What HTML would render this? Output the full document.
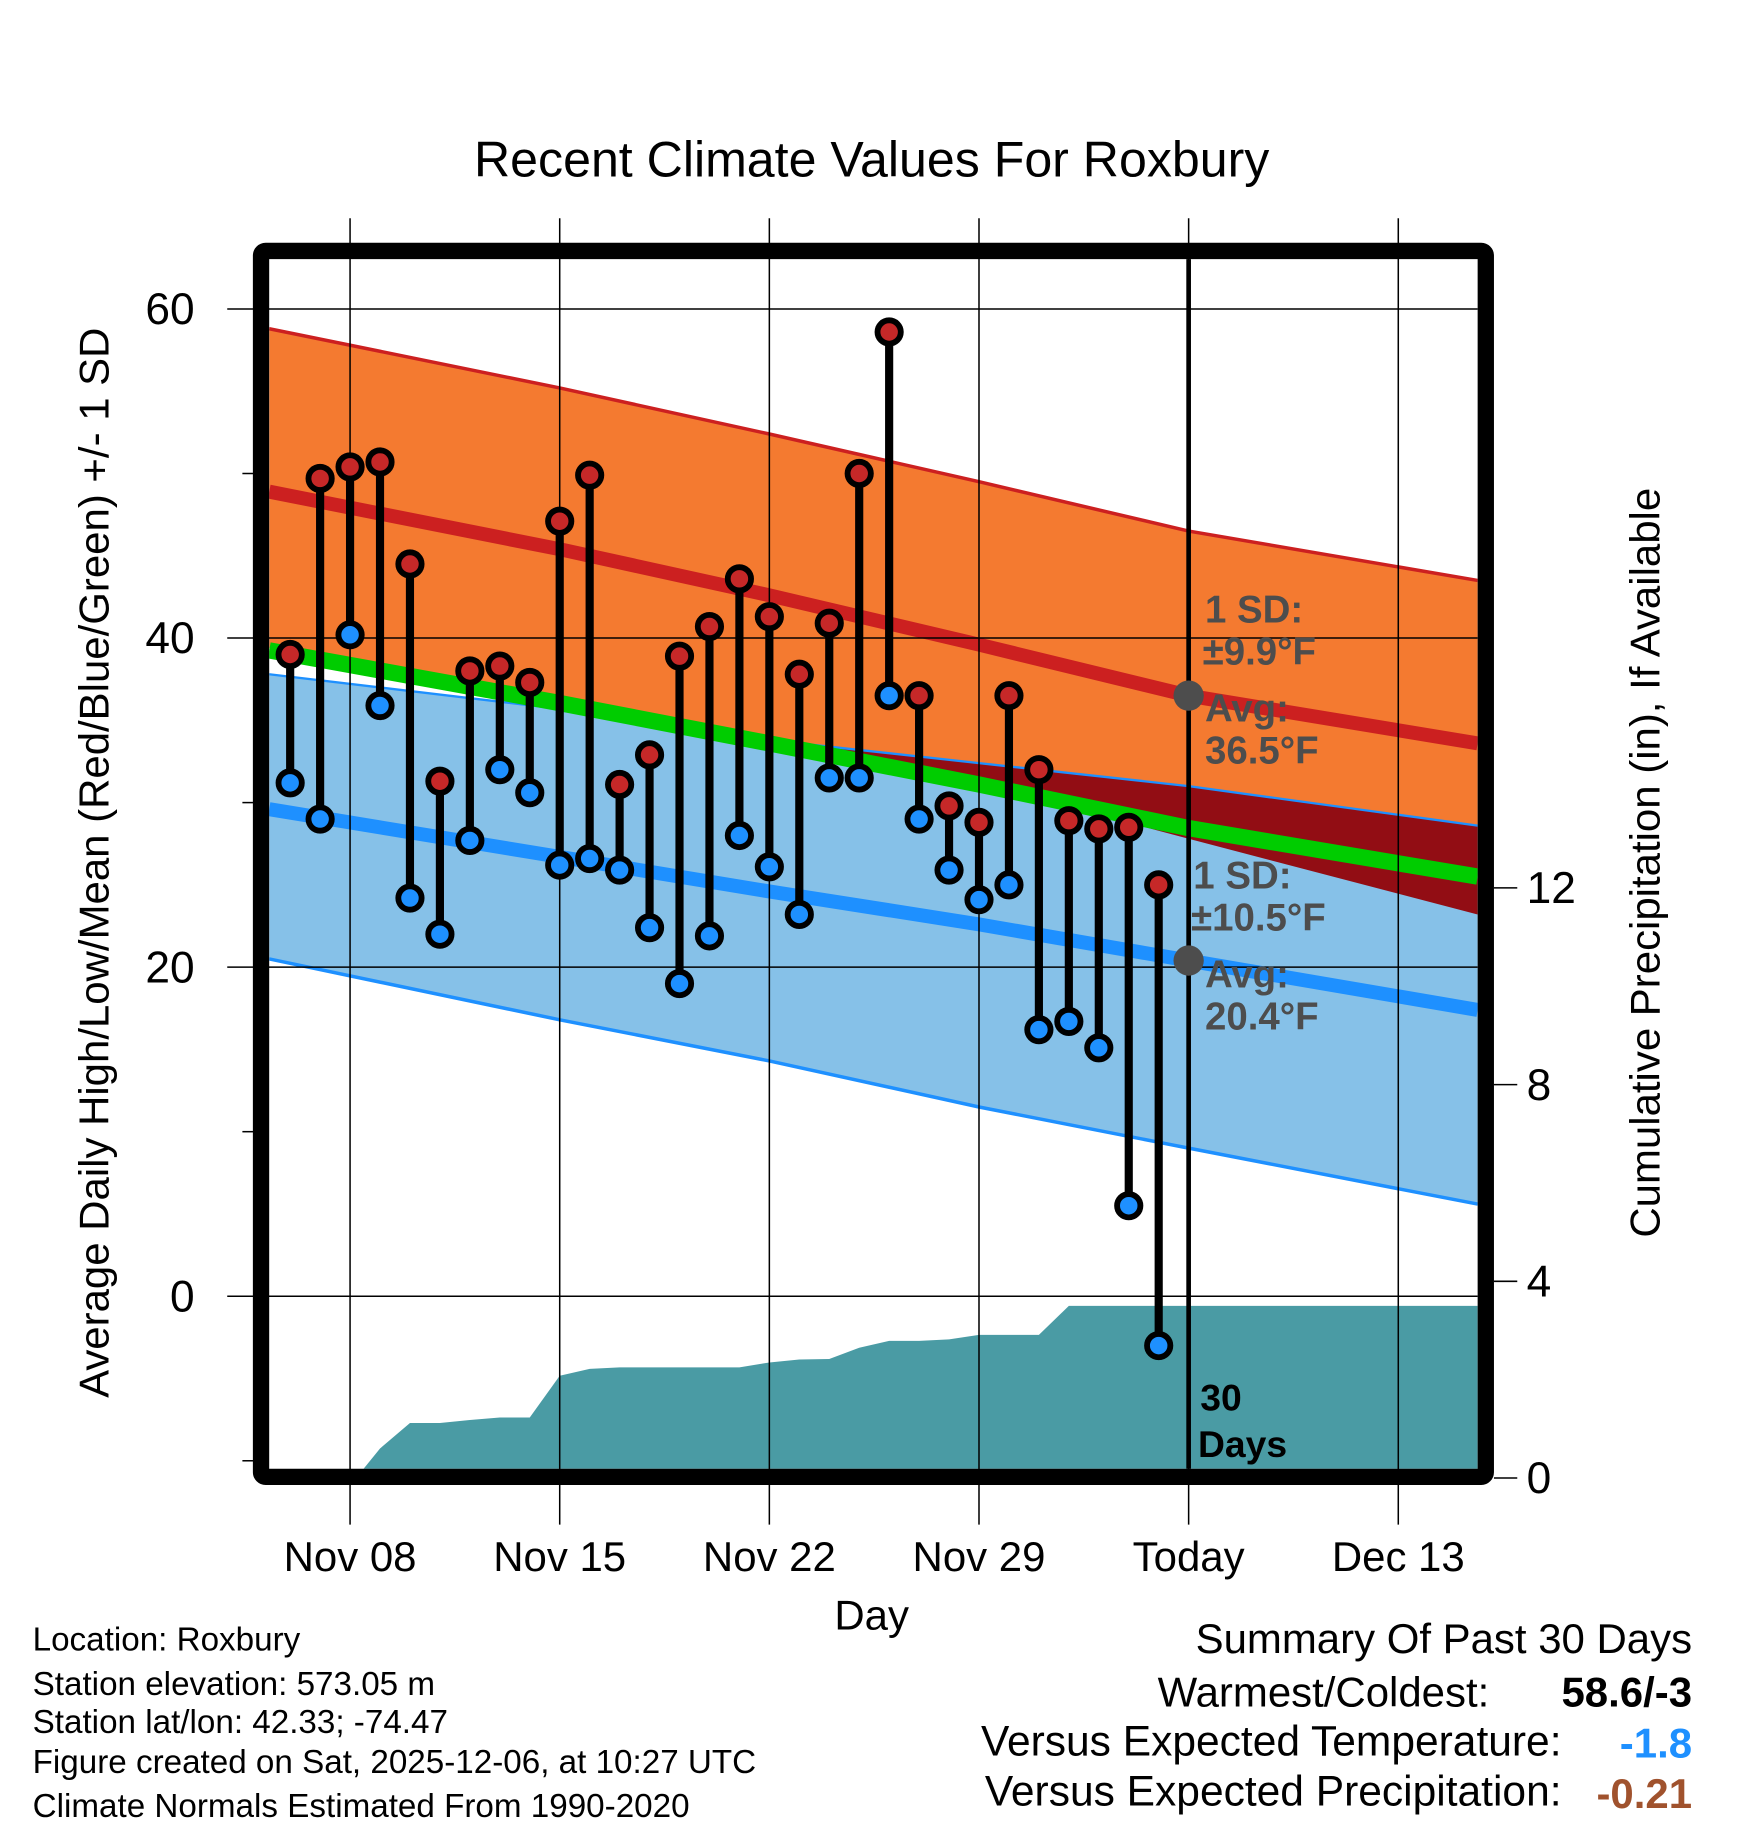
<!DOCTYPE html>
<html><head><meta charset="utf-8"><style>
html,body{margin:0;padding:0;background:#fff;}
svg{display:block;font-family:"Liberation Sans",Arial,sans-serif;}
</style></head><body>
<svg id="chart" width="1748" height="1828" viewBox="0 0 1500 1568" xmlns="http://www.w3.org/2000/svg">
<defs><clipPath id="blueClip"><polygon id="blueClipPoly"/></clipPath><clipPath id="plotClip"><rect x="231" y="222" width="1037" height="1038"/></clipPath></defs>
<text x="748" y="151" font-size="43" text-anchor="middle">Recent Climate Values For Roxbury</text>
<g id="bands" clip-path="url(#plotClip)"></g>
<g id="grid"></g>
<g id="marks"></g>
<g id="frame"></g>
<g id="labels"></g>
</svg>
<script>
// data
const days = ["Nov 06","Nov 07","Nov 08","Nov 09","Nov 10","Nov 11","Nov 12","Nov 13","Nov 14","Nov 15","Nov 16","Nov 17","Nov 18","Nov 19","Nov 20","Nov 21","Nov 22","Nov 23","Nov 24","Nov 25","Nov 26","Nov 27","Nov 28","Nov 29","Nov 30","Dec 01","Dec 02","Dec 03","Dec 04","Dec 05"];
const highs = [39,49.7,50.4,50.7,44.5,31.3,38,38.3,37.3,47.1,49.9,31.1,32.9,38.9,40.7,43.6,41.3,37.8,40.9,50,58.6,36.5,29.8,28.8,36.5,32,28.9,28.4,28.5,25];
const lows = [31.2,29,40.2,35.9,24.2,22,27.7,32,30.6,26.2,26.6,25.9,22.4,19,21.9,28,26.1,23.2,31.5,31.5,36.5,29,25.9,24.1,25,16.2,16.7,15.1,5.5,-3];
const precip = [0,0,0,0.6,1.12,1.12,1.18,1.23,1.23,2.08,2.22,2.25,2.25,2.25,2.25,2.25,2.35,2.41,2.42,2.65,2.79,2.79,2.82,2.91,2.91,2.91,3.5,3.5,3.5,3.5,3.5];
const normDays = [-0.7,9,16,23,30,39.65];
const highUpper = [58.8,55.2,52.4,49.5,46.5,43.5];
const highMean = [48.9,45.4,42.6,39.6,36.5,33.6];
const highLower = [39.4,36.0,33.5,31.2,27.8,23.2];
const lowUpper = [37.8,35.7,33.8,32.4,31.0,28.6];
const lowMean = [29.6,26.7,24.6,22.6,20.4,17.4];
const lowLower = [20.5,16.8,14.3,11.5,9.0,5.6];
const xTickLabels = ["Nov 08","Nov 15","Nov 22","Nov 29","Today","Dec 13"];
const xTickDays = [2,9,16,23,30,37];
const yTicks = [60,40,20,0];
const yMinor = [50,30,10,-10];
const pTicks = [0,4,8,12];

const X = d => 249 + 25.7*d;
const Y = v => 1112 - 14.12*v;
const P = v => 1268 - 42.2*v;
const NS="http://www.w3.org/2000/svg";
function mk(tag, parent, attrs){const e=document.createElementNS(NS,tag);for(const k in attrs)e.setAttribute(k,attrs[k]);parent.appendChild(e);return e;}
const bands=document.getElementById('bands'),grid=document.getElementById('grid'),marks=document.getElementById('marks'),frame=document.getElementById('frame'),labels=document.getElementById('labels');
const pts = arr => normDays.map((d,i)=>X(d)+','+Y(arr[i]));
const band = (a,b) => pts(a).concat(pts(b).reverse()).join(' ');

let e;
e=mk('polygon',bands,{points:band(highUpper,highLower),fill:'#f47a30'});


document.getElementById('blueClipPoly').setAttribute('points',band(lowUpper,lowLower));
e=mk('polygon',bands,{points:band(lowUpper,lowLower),fill:'#86c1e8'});


e=mk('polygon',bands,{points:band(highUpper,highLower),fill:'#920d14','clip-path':'url(#blueClip)'});


e=mk('polyline',bands,{points:pts(highUpper).join(' '),fill:'none',stroke:'#cc2020','stroke-width':3});


e=mk('polyline',bands,{points:pts(lowUpper).join(' '),fill:'none',stroke:'#1e90ff','stroke-width':2});


e=mk('polyline',bands,{points:pts(lowLower).join(' '),fill:'none',stroke:'#1e90ff','stroke-width':3});


const meanAll = highMean.map((v,i)=>(v+lowMean[i])/2);
e=mk('polyline',bands,{points:pts(meanAll).join(' '),fill:'none',stroke:'#00cc00','stroke-width':14});


e=mk('polyline',bands,{points:pts(highMean).join(' '),fill:'none',stroke:'#cc2020','stroke-width':12});


e=mk('polyline',bands,{points:pts(lowMean).join(' '),fill:'none',stroke:'#1e90ff','stroke-width':12});


// precip area
let pp=[X(2.2)+','+P(0)];
precip.forEach((v,i)=>{ if(i>=3) pp.push(X(i)+','+P(v)); });
pp.push(X(39.65)+','+P(precip[precip.length-1]));
pp.push(X(39.65)+','+P(0));
e=mk('polygon',bands,{points:pp.join(' '),fill:'#4a9ba4'});



// grid
xTickDays.forEach(d=>{e=mk('line',grid,{x1:X(d),x2:X(d),y1:187,y2:1308,stroke:'#000','stroke-width':1.3});

});
yTicks.forEach(v=>{e=mk('line',grid,{x1:195,x2:1268,y1:Y(v),y2:Y(v),stroke:'#000','stroke-width':1.3});

});
yMinor.forEach(v=>{e=mk('line',grid,{x1:208,x2:220,y1:Y(v),y2:Y(v),stroke:'#000','stroke-width':1.3});

});
pTicks.forEach(v=>{e=mk('line',grid,{x1:1282,x2:1302,y1:P(v),y2:P(v),stroke:'#000','stroke-width':1.3});

});
e=mk('line',grid,{x1:X(30),x2:X(30),y1:222,y2:1260,stroke:'#000','stroke-width':4});



// stems & dots
highs.forEach((h,i)=>{
  e=mk('line',marks,{x1:X(i),x2:X(i),y1:Y(h),y2:Y(lows[i]),stroke:'#000','stroke-width':7});
  
  
});
highs.forEach((h,i)=>{
  e=mk('circle',marks,{cx:X(i),cy:Y(h),r:10,fill:'#c62828',stroke:'#000','stroke-width':5});
  
  
  e=mk('circle',marks,{cx:X(i),cy:Y(lows[i]),r:10,fill:'#1e90ff',stroke:'#000','stroke-width':5});
  
  
});
e=mk('circle',marks,{cx:X(30),cy:Y(highMean[4]),r:13,fill:'#4d4d4d'});


e=mk('circle',marks,{cx:X(30),cy:Y(lowMean[4]),r:13,fill:'#4d4d4d'});



// frame
e=mk('rect',frame,{x:224,y:215,width:1051,height:1052,fill:'none',stroke:'#000','stroke-width':14,rx:4});



// labels
function txt(s,x,y,attrs,name){const t=mk('text',labels,Object.assign({x:x,y:y},attrs));t.textContent=s;return t;}
yTicks.forEach(v=>txt(String(v),167,Y(v)+13,{'font-size':38,'text-anchor':'end'},'y-tick-label'));
pTicks.forEach(v=>txt(String(v),1310,P(v)+13,{'font-size':38},'precip-tick-label'));
xTickLabels.forEach((s,i)=>txt(s,X(xTickDays[i]),1348,{'font-size':36,'text-anchor':'middle'},'x-tick-label'));
txt('Day',748,1398,{'font-size':36,'text-anchor':'middle'},'x-axis-title');
txt('Average Daily High/Low/Mean (Red/Blue/Green) +/- 1 SD',0,0,{'font-size':36,'text-anchor':'middle',transform:'translate(93,740) rotate(-90)'},'y-axis-title');
txt('Cumulative Precipitation (in), If Available',0,0,{'font-size':36,'text-anchor':'middle',transform:'translate(1424,740) rotate(-90)'},'precip-axis-title');
const g={'font-size':33,'font-weight':'bold',fill:'#4d4d4d'};
txt('1 SD:',1034,534,g,'high-sd-label');
txt('±9.9°F',1032,570,g,'high-sd-value');
txt('Avg:',1034,619,g,'high-avg-label');
txt('36.5°F',1034,655,g,'high-avg-value');
txt('1 SD:',1024,762,g,'low-sd-label');
txt('±10.5°F',1022,798,g,'low-sd-value');
txt('Avg:',1034,847,g,'low-avg-label');
txt('20.4°F',1034,883,g,'low-avg-value');
txt('30',1030,1210,{'font-size':32,'font-weight':'bold'},'days-count');
txt('Days',1028,1250,{'font-size':32,'font-weight':'bold'},'days-label');
const info=['Location: Roxbury','Station elevation: 573.05 m','Station lat/lon: 42.33; -74.47','Figure created on Sat, 2025-12-06, at 10:27 UTC','Climate Normals Estimated From 1990-2020'];
const infoY=[1416,1454,1487,1521,1559];
info.forEach((s,i)=>txt(s,28,infoY[i],{'font-size':28.5},'station-info-line'));
txt('Summary Of Past 30 Days',1452,1418,{'font-size':36,'text-anchor':'end'},'summary-title');
txt('Warmest/Coldest:',1278,1464,{'font-size':36,'text-anchor':'end'},'warmest-coldest-label');
txt('58.6/-3',1452,1464,{'font-size':36,'text-anchor':'end','font-weight':'bold'},'warmest-coldest-value');
txt('Versus Expected Temperature:',1340,1506,{'font-size':36.5,'text-anchor':'end'},'temp-anomaly-label');
txt('-1.8',1452,1508,{'font-size':36,'text-anchor':'end','font-weight':'bold',fill:'#1e90ff'},'temp-anomaly-value');
txt('Versus Expected Precipitation:',1340,1549,{'font-size':36.5,'text-anchor':'end'},'precip-anomaly-label');
txt('-0.21',1452,1551,{'font-size':36,'text-anchor':'end','font-weight':'bold',fill:'#a0522d'},'precip-anomaly-value');
</script>
</body></html>
